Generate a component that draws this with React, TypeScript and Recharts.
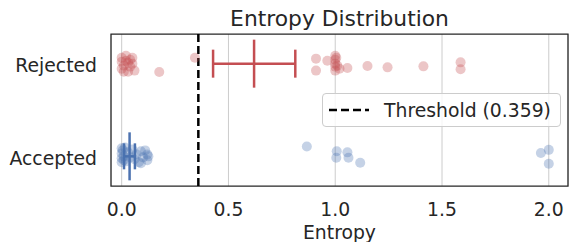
import React from "react";
import {
  ScatterChart,
  Scatter,
  XAxis,
  YAxis,
  CartesianGrid,
  ReferenceLine,
  ReferenceArea,
  ErrorBar,
} from "recharts";

// rows: 0 = Accepted (bottom), 1 = Rejected (top)
const categories = ["Accepted", "Rejected"];
const xTicks = [0, 0.5, 1, 1.5, 2];
const threshold = 0.359;

const rejectedX = [
  0.0, 0.01, 0.02, 0.0, 0.03, 0.04, 0.05, 0.06, 0.02, 0.04, 0.01, 0.03, 0.0, 0.05,
  0.176, 0.343, 0.91, 0.91, 0.963, 1.0, 1.0, 1.0, 1.0, 1.0, 1.005, 1.01, 1.02,
  1.057, 1.151, 1.245, 1.413, 1.587, 1.587,
];
const rejectedJitter = [
  0.064, -0.021, 0.032, -0.054, -0.086, 0.043, 0, -0.075, 0.086, -0.032, -0.086, 0.011, 0.021, 0.064,
  -0.09, 0.064, 0.054, -0.075, 0.032, 0.086, 0.043, 0, -0.032, -0.075, 0.064, -0.021, -0.054,
  -0.047, -0.026, -0.04, -0.029, 0.014, -0.061,
];

const acceptedX = [
  0.0, 0.0, 0.0, 0.0, 0.005, 0.01, 0.01, 0.015, 0.02, 0.03, 0.04, 0.05, 0.06, 0.07,
  0.08, 0.09, 0.1, 0.11, 0.12, 0.12, 0.125, 0.09, 0.867, 1.007, 1.005, 1.057, 1.062,
  1.117, 1.963, 2.0, 2.0,
];
const acceptedJitter = [
  0.086, 0.032, -0.021, -0.064, 0.064, 0, -0.043, 0.096, -0.054, 0.043, -0.011, 0.075, -0.032, 0.021,
  -0.064, 0.054, -0.011, 0.064, 0.021, -0.043, 0, -0.075, 0.107, 0.054, -0.016, 0.043, -0.016,
  -0.07, 0.037, 0.07, -0.08,
];

const means = [0.037, 0.62];
const ciLow = [0.011, 0.428];
const ciHigh = [0.062, 0.813];

const RED = "#c44e52";
const BLUE = "#4c72b0";
const TEXT = "#262626";
const FONT = "DejaVu Sans";
const FS = 18.8;

const toPoints = (xs: number[], jit: number[], row: number) =>
  xs.map((x, i) => ({ x, y: row + jit[i] }));

const rejectedPts = toPoints(rejectedX, rejectedJitter, 1);
const acceptedPts = toPoints(acceptedX, acceptedJitter, 0);
const meanPts = (row: number) => [
  { x: means[row], y: row, err: [means[row] - ciLow[row], ciHigh[row] - means[row]] },
];

const meanTick = (color: string) => (props: any) => (
  <line
    x1={props.cx}
    x2={props.cx}
    y1={props.cy - 24}
    y2={props.cy + 24}
    stroke={color}
    strokeWidth={2.5}
  />
);

const dot = (color: string) => (props: any) => (
  <circle cx={props.cx} cy={props.cy} r={5} fill={color} fillOpacity={0.32} />
);

const YTick = (props: any) => (
  <text
    x={props.x - 6}
    y={props.y + 2}
    textAnchor="end"
    dominantBaseline="central"
    fill={TEXT}
    fontSize={FS}
    fontFamily={FONT}
  >
    {categories[props.payload.value]}
  </text>
);

const XTick = (props: any) => (
  <text
    x={props.x}
    y={props.y + 15}
    textAnchor="middle"
    dominantBaseline="central"
    fill={TEXT}
    fontSize={FS}
    fontFamily={FONT}
  >
    {props.payload.value.toFixed(1)}
  </text>
);

export default function App() {
  return (
    <div style={{ position: "fixed", left: 0, top: 0, width: 570, height: 242, background: "#fff" }}>
      <div
        style={{
          position: "absolute",
          left: 111,
          top: 6,
          width: 457,
          textAlign: "center",
          fontFamily: FONT,
          fontSize: 21.8,
          lineHeight: "26px",
          color: TEXT,
        }}
      >
        Entropy Distribution
      </div>
      <ScatterChart width={570} height={242} margin={{ top: 34, right: 2, bottom: 0, left: 0 }}>
        <CartesianGrid horizontal={false} stroke="#cccccc" strokeWidth={1} />
        <XAxis
          type="number"
          dataKey="x"
          domain={[-0.05, 2.09]}
          ticks={xTicks}
          axisLine={false}
          tickLine={false}
          tick={<XTick />}
          height={56}
          label={{
            value: "Entropy",
            position: "insideBottom",
            offset: 3,
            fill: TEXT,
            fontSize: FS,
            fontFamily: FONT,
          }}
        />
        <YAxis
          type="number"
          dataKey="y"
          domain={[-0.32, 1.32]}
          ticks={[0, 1]}
          axisLine={false}
          tickLine={false}
          tick={<YTick />}
          width={111}
        />
        <Scatter data={rejectedPts} shape={dot(RED)} isAnimationActive={false} />
        <Scatter data={acceptedPts} shape={dot(BLUE)} isAnimationActive={false} />
        <ReferenceLine x={threshold} stroke="#000" strokeWidth={2.5} strokeDasharray="8 4" />
        <Scatter data={meanPts(1)} shape={meanTick(RED)} isAnimationActive={false}>
          <ErrorBar dataKey="err" direction="x" width={14} stroke={RED} strokeWidth={2.5} />
        </Scatter>
        <Scatter data={meanPts(0)} shape={meanTick(BLUE)} isAnimationActive={false}>
          <ErrorBar dataKey="err" direction="x" width={13} stroke={BLUE} strokeWidth={2.5} />
        </Scatter>
        <ReferenceArea
          x1={-0.05}
          x2={2.09}
          y1={-0.32}
          y2={1.32}
          fill="none"
          stroke={TEXT}
          strokeWidth={1.25}
          ifOverflow="visible"
        />
      </ScatterChart>
      <div
        style={{
          position: "absolute",
          left: 322,
          top: 93,
          width: 237,
          height: 32,
          border: "1px solid #cccccc",
          borderRadius: 4,
          background: "rgba(255,255,255,0.8)",
          display: "flex",
          alignItems: "center",
          fontFamily: FONT,
          fontSize: FS,
          color: TEXT,
        }}
      >
        <svg width={50} height={10} style={{ marginLeft: 5 }}>
          <line x1={1} x2={41} y1={5} y2={5} stroke="#000" strokeWidth={2.5} strokeDasharray="8 4" />
        </svg>
        <span style={{ marginLeft: 6, whiteSpace: "nowrap" }}>Threshold (0.359)</span>
      </div>
    </div>
  );
}
